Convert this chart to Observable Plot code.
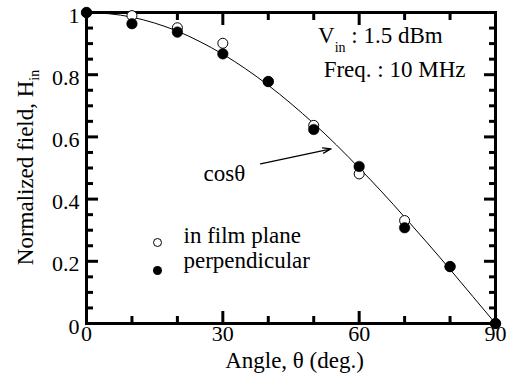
<!DOCTYPE html>
<html><head><meta charset="utf-8">
<script src="https://cdn.jsdelivr.net/npm/d3@7"></script>
<script src="https://cdn.jsdelivr.net/npm/@observablehq/plot@0.6"></script>
<style>
  html,body{margin:0;padding:0;background:#fff}
  svg{font-family:"Liberation Serif","Times New Roman",serif}
</style>
</head><body><div id="chart"></div>
<script>
// Measured data
const angles = [0, 10, 20, 30, 40, 50, 60, 70, 80, 90];
const inFilmPlane = [1.0, 0.990, 0.951, 0.901, 0.778, 0.637, 0.481, 0.331, 0.183, 0.0];
const perpendicular = [1.0, 0.964, 0.937, 0.867, 0.778, 0.624, 0.505, 0.308, 0.183, 0.0];

// cos(theta) reference curve
const curveAngles = [0, 5, 10, 15, 20, 25, 30, 35, 40, 45, 50, 55, 60, 65, 70, 75, 80, 85, 90];
const curveValues = [1.0, 0.996, 0.985, 0.966, 0.940, 0.906, 0.866, 0.819, 0.766, 0.707, 0.643, 0.574, 0.500, 0.423, 0.342, 0.259, 0.174, 0.087, 0.0];

// Ticks
const xMajor = [0, 30, 60, 90];
const xMinor = [10, 20, 40, 50, 70, 80];
const yMajor = [0, 0.2, 0.4, 0.6, 0.8, 1];
const yMinor = [0.05, 0.1, 0.15, 0.25, 0.3, 0.35, 0.45, 0.5, 0.55, 0.65, 0.7, 0.75, 0.85, 0.9, 0.95];

// Labels
const xLabel = "Angle, θ (deg.)";
const yLabelMain = "Normalized field, H";
const yLabelSub = "in";
const legendLabels = ["in film plane", "perpendicular"];
const curveLabel = "cosθ";
const arrowFrom = [38.3, 0.5135];
const arrowTo = [53.85, 0.5617];
const vinMain = "V", vinSub = "in", vinRest = " : 1.5 dBm";
const freqText = "Freq. : 10 MHz";

const openPts = angles.map((a, i) => ({angle: a, h: inFilmPlane[i]}));
const filledPts = angles.map((a, i) => ({angle: a, h: perpendicular[i]}));
const curve = curveAngles.map((a, i) => ({angle: a, h: curveValues[i]}));

const W = 508, H = 385, mL = 86, mR = 13, mT = 12, mB = 62;
const FF = "Liberation Serif";
const noText = () => "";

const plot = Plot.plot({
  width: W, height: H,
  marginLeft: mL, marginRight: mR, marginTop: mT, marginBottom: mB,
  style: {fontFamily: FF, fontSize: "22px", background: "white", color: "black"},
  x: {domain: [0, 90], label: null},
  y: {domain: [0, 1], label: null},
  marks: [
    // ticks inward on all four sides
    Plot.axisX(xMajor, {anchor: "bottom", tickSize: -12, strokeWidth: 3, tickFormat: noText}),
    Plot.axisX(xMinor, {anchor: "bottom", tickSize: -7, strokeWidth: 3, tickFormat: noText}),
    Plot.axisX(xMajor, {anchor: "top", tickSize: -12, strokeWidth: 3, tickFormat: noText}),
    Plot.axisX(xMinor, {anchor: "top", tickSize: -7, strokeWidth: 3, tickFormat: noText}),
    Plot.axisY(yMajor, {anchor: "left", tickSize: -12, strokeWidth: 3, tickFormat: noText}),
    Plot.axisY(yMinor, {anchor: "left", tickSize: -7, strokeWidth: 3, tickFormat: noText}),
    Plot.axisY(yMajor, {anchor: "right", tickSize: -12, strokeWidth: 3, tickFormat: noText}),
    Plot.axisY(yMinor, {anchor: "right", tickSize: -7, strokeWidth: 3, tickFormat: noText}),
    // tick labels
    Plot.axisX(xMajor, {anchor: "bottom", tickSize: 0, tickPadding: 2, tickFormat: d => String(d), fontSize: 22, fontFamily: FF}),
    Plot.axisY(yMajor, {anchor: "left", tickSize: 0, tickPadding: 7, dy: 3, tickFormat: d => String(d), fontSize: 22, fontFamily: FF}),
    Plot.frame({stroke: "black", strokeWidth: 3}),
    // cos curve
    Plot.line(curve, {x: "angle", y: "h", curve: "natural", stroke: "black", strokeWidth: 1}),
    // data
    Plot.dot(openPts, {x: "angle", y: "h", r: 5, fill: "white", stroke: "black", strokeWidth: 1}),
    Plot.dot(filledPts, {x: "angle", y: "h", r: 5.3, fill: "black", stroke: "black", strokeWidth: 0.5}),
    // annotation arrow & label
    Plot.arrow([{}], {x1: () => arrowFrom[0], y1: () => arrowFrom[1], x2: () => arrowTo[0], y2: () => arrowTo[1],
      stroke: "black", strokeWidth: 1.2, headLength: 11, headAngle: 35}),
    Plot.text([curveLabel], {frameAnchor: "top-left", dx: 117, dy: 152.6, textAnchor: "start", fontSize: 23, fontFamily: FF, fill: "black"}),
    Plot.text([freqText], {frameAnchor: "top-right", dx: -30, dy: 48.6, textAnchor: "end", fontSize: 23, fontFamily: FF, fill: "black"}),
    // legend
    Plot.dot([0], {frameAnchor: "bottom-left", dx: 71, dy: -81, r: 4, fill: "white", stroke: "black", strokeWidth: 1}),
    Plot.dot([0], {frameAnchor: "bottom-left", dx: 71, dy: -53, r: 4.5, fill: "black"}),
    Plot.text([legendLabels[0]], {frameAnchor: "bottom-left", dx: 97, dy: -80.4, textAnchor: "start", fontSize: 23, fontFamily: FF, fill: "black"}),
    Plot.text([legendLabels[1]], {frameAnchor: "bottom-left", dx: 97, dy: -55.4, textAnchor: "start", fontSize: 23, fontFamily: FF, fill: "black"}),
    // x label
    Plot.text([xLabel], {frameAnchor: "bottom", dx: 3.5, dy: 44.6, fontSize: 23, fontFamily: FF, fill: "black"})
  ]
});

const svg = d3.select(plot);
// V_in label
const vin = svg.append("text").attr("x", 318).attr("y", 43).attr("text-anchor", "start")
  .attr("font-family", FF).attr("font-size", 23).attr("fill", "black");
vin.append("tspan").text(vinMain);
vin.append("tspan").attr("font-size", 14).attr("dy", 9).text(vinSub);
vin.append("tspan").attr("dy", -9).text(vinRest);
// y label
const yl = svg.append("text")
  .attr("transform", `translate(33,${(mT + H - mB) / 2}) rotate(-90)`)
  .attr("text-anchor", "middle").attr("font-family", FF).attr("font-size", 23).attr("fill", "black");
yl.append("tspan").text(yLabelMain);
yl.append("tspan").attr("font-size", 14).attr("dy", 6).text(yLabelSub);

document.getElementById("chart").appendChild(plot);
</script>
</body></html>
